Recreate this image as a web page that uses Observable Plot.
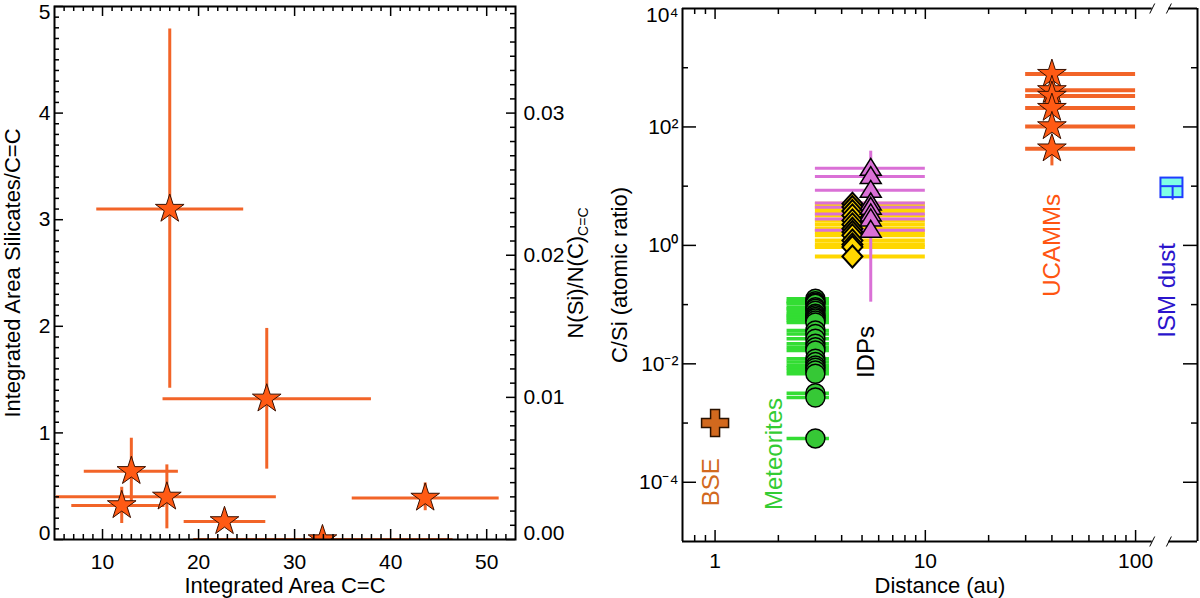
<!DOCTYPE html>
<html>
<head>
<meta charset="utf-8">
<script src="https://cdn.jsdelivr.net/npm/d3@7"></script>
<script src="https://cdn.jsdelivr.net/npm/@observablehq/plot@0.6"></script>
<style>
  html, body { margin: 0; padding: 0; background: #fff; }
  #chart { display: flex; width: 1200px; height: 598px; overflow: hidden; }
</style>
</head>
<body>
<div id="chart"></div>
<script>
// ---- panel izquierdo: areas integradas ----
const areaCC   = [17.0, 27.1, 13.0, 16.7, 12.0, 22.7, 32.9, 43.6];
const areaCCLo = [9.4, 16.3, 8.1, 5.2, 6.8, 18.5, 19.5, 36.0];
const areaCCHi = [24.7, 38.0, 17.9, 28.1, 16.5, 27.0, 46.5, 51.3];
const silCC    = [3.10, 1.32, 0.64, 0.40, 0.32, 0.17, 0.00, 0.39];
const silCCLo  = [1.42, 0.66, 0.35, 0.10, 0.15, 0.17, 0.00, 0.27];
const silCCHi  = [4.79, 1.98, 0.95, 0.70, 0.49, 0.17, 0.00, 0.53];
const siPerC = 0.0075;               // N(Si)/N(C) por unidad de area
const leftXTicks = [10, 20, 30, 40, 50];
const leftYTicks = [0, 1, 2, 3, 4, 5];
const nSiTicks = [0.00, 0.01, 0.02, 0.03];

// ---- panel derecho: C/Si vs distancia ----
const bseDist = 1, bseCSi = 1e-3;
const metDist = 3, metDistLo = 2.2, metDistHi = 3.5;
const metCSi = [0.125, 0.114, 0.108, 0.103, 0.09, 0.085, 0.079, 0.07, 0.066, 0.0615, 0.058, 0.054, 0.05,
                0.0365, 0.032, 0.0265, 0.0218, 0.019, 0.0168, 0.0122, 0.0107, 0.0094, 0.0086, 0.0077, 0.0068,
                0.0032, 0.0027, 0.00055];
const idpDistLo = 3, idpDistHi = 10;
const idpYellowDist = 4.5;
const idpYellow = [5.06, 4.44, 3.8, 3.21, 2.64, 2.26, 1.91, 1.68, 1.48, 1.21, 1.04, 0.94, 0.65];
const idpPinkDist = 5.5;
const idpPink = [20, 14.5, 8.5, 5.2, 4.4, 3.4, 2.8, 1.8];
const idpPinkErr = [0.11, 39];
const ucDist = 40, ucDistLo = 30, ucDistHi = 100;
const ucammCSi = [780, 415, 333, 208, 102, 43];
const ucammErr = [22, 43];
const ismDist = 150, ismDistLo = 132, ismDistHi = 168;
const ismCSi = 10, ismLo = 6.4, ismHi = 13.7, ismErr = [5.8, 10];
const groupNames = ["BSE", "Meteorites", "IDPs", "UCAMMs", "ISM dust"];
const groupColors = ["#d2691e", "#33cc33", "#000000", "#ff5511", "#2a14cc"];
const labelDist = [0.957, 1.91, 5.22, 40, 141];
const labelCSi = [1e-4, 3e-4, 0.0158, 1, 0.174];
const rightXTicks = [1, 10, 100];
const rightYTicks = [1e-4, 1e-2, 1, 1e2, 1e4];

const font = "'Liberation Sans', Arial, Helvetica, sans-serif";
const orangeBar = "#f26428", orangeStar = "#ff5a14";

const leftPts = areaCC.map((x, i) => ({x, xlo: areaCCLo[i], xhi: areaCCHi[i], y: silCC[i], ylo: silCCLo[i], yhi: silCCHi[i]}));

// ticks hacia adentro (estilo IDL); las etiquetas de los extremos quedan dentro del marco
const LH = 533, LW = 461;
const left = Plot.plot({
  width: 600, height: 598,
  marginLeft: 54, marginRight: 85, marginTop: 6, marginBottom: 59,
  style: {fontFamily: font, fontSize: "21px", color: "black", background: "white", overflow: "visible"},
  x: {domain: [5, 53], axis: null},
  y: {domain: [0, 5], axis: null},
  marks: [
    Plot.ruleY(leftPts, {y: "y", x1: "xlo", x2: "xhi", stroke: orangeBar, strokeWidth: 3, clip: true}),
    Plot.ruleX(leftPts, {x: "x", y1: "ylo", y2: "yhi", stroke: orangeBar, strokeWidth: 3, clip: true}),
    Plot.dot(leftPts, {x: "x", y: "y", symbol: "star", r: 9, fill: orangeStar, stroke: "#3a1000", strokeWidth: 1, clip: true}),
    Plot.tickX(leftXTicks, {x: d => d, insetTop: LH - 10, strokeWidth: 1.5}),
    Plot.tickX(leftXTicks, {x: d => d, insetBottom: LH - 10, strokeWidth: 1.5}),
    Plot.tickX(d3.range(6, 53).filter(d => d % 10), {x: d => d, insetTop: LH - 5, strokeWidth: 1.5}),
    Plot.tickX(d3.range(6, 53).filter(d => d % 10), {x: d => d, insetBottom: LH - 5, strokeWidth: 1.5}),
    Plot.tickY(leftYTicks, {y: d => d, insetRight: LW - 9, strokeWidth: 1.5}),
    Plot.tickY(d3.range(1, 50).filter(d => d % 10).map(d => d / 10), {y: d => d, insetRight: LW - 5, strokeWidth: 1.5}),
    Plot.tickY(nSiTicks, {y: d => d / siPerC, insetLeft: LW - 9, strokeWidth: 1.5}),
    Plot.tickY(d3.range(1, 38).filter(d => d % 10).map(d => d / 1000), {y: d => d / siPerC, insetLeft: LW - 5, strokeWidth: 1.5}),
    Plot.frame({strokeWidth: 2}),
    // etiquetas de ticks
    Plot.text(leftXTicks, {x: d => d, frameAnchor: "bottom", dy: 22.7, lineAnchor: "middle"}),
    Plot.text(leftYTicks.slice(1, -1), {y: d => d, frameAnchor: "left", dx: -4, textAnchor: "end"}),
    Plot.text(leftYTicks.slice(-1), {y: d => d, frameAnchor: "left", dx: -4, dy: 6, textAnchor: "end"}),
    Plot.text(leftYTicks.slice(0, 1), {y: d => d, frameAnchor: "left", dx: -4, dy: -6, textAnchor: "end"}),
    Plot.text(nSiTicks.slice(1), {y: d => d / siPerC, frameAnchor: "right", dx: 8, textAnchor: "start", text: d => d.toFixed(2)}),
    Plot.text(nSiTicks.slice(0, 1), {y: d => d / siPerC, frameAnchor: "right", dx: 8, dy: -6, textAnchor: "start", text: d => d.toFixed(2)}),
    // titulos
    Plot.text(["Integrated Area C=C"], {frameAnchor: "bottom", dy: 46, fontSize: 22, lineAnchor: "middle", textAnchor: "middle"}),
    Plot.text(["Integrated Area Silicates/C=C"], {frameAnchor: "left", dx: -41.5, rotate: -90, fontSize: 22, lineAnchor: "middle", textAnchor: "middle"}),
    Plot.text(["N(Si)/N(C)"], {frameAnchor: "right", dx: 60, rotate: -90, fontSize: 22, lineAnchor: "middle", textAnchor: "middle"})
  ]
});

// subindice C=C
d3.select(left).selectAll("text").filter(function() { return this.textContent === "N(Si)/N(C)"; })
  .append("tspan").attr("dy", "0.4em").attr("font-size", "14px").text("C=C");

const sup = {"-": "\u207b", "0": "\u2070", "1": "\u00b9", "2": "\u00b2", "3": "\u00b3", "4": "\u2074"};
const pow10 = d => "10" + String(Math.round(Math.log10(d))).split("").map(c => sup[c]).join("");

const met = metCSi.map(y => ({x: metDist, y, lo: metDistLo, hi: metDistHi}));
const yel = idpYellow.map(y => ({x: idpYellowDist, y, lo: idpDistLo, hi: idpDistHi}));
const pink = idpPink.map(y => ({x: idpPinkDist, y, lo: idpDistLo, hi: idpDistHi}));
const uc = ucammCSi.map(y => ({x: ucDist, y, lo: ucDistLo, hi: ucDistHi}));
const labels = groupNames.map((name, i) => ({name, color: groupColors[i], x: labelDist[i], y: labelCSi[i]}));

// simbolos de tamano fijo
const diamond = {draw(c) { c.moveTo(0, -11); c.lineTo(10, 0); c.lineTo(0, 11); c.lineTo(-10, 0); c.closePath(); }};
const triangle = {draw(c) { c.moveTo(0, -10); c.lineTo(10.5, 7); c.lineTo(-10.5, 7); c.closePath(); }};
const plus = {draw(c) {
  const a = 13.5, b = 4.5;
  c.moveTo(-b, -a); c.lineTo(b, -a); c.lineTo(b, -b); c.lineTo(a, -b); c.lineTo(a, b); c.lineTo(b, b);
  c.lineTo(b, a); c.lineTo(-b, a); c.lineTo(-b, b); c.lineTo(-a, b); c.lineTo(-a, -b); c.lineTo(-b, -b); c.closePath();
}};
const slash = {draw(c) { c.moveTo(-2.5, 5); c.lineTo(2.5, -5); }};

const RH = 533, RW = 515;
const xDom = [0.7, 197], yDom = [1e-5, 1e4], brk = [120, 144];
const xMinor = [0.8, 0.9, ...d3.range(2, 10), ...d3.range(20, 100, 10)];
const yMinor = [1e-3, 1e-1, 1e1, 1e3];
const yMajor = [1e-4, 1e-2, 1, 1e2];

const right = Plot.plot({
  width: 600, height: 598,
  marginLeft: 82, marginRight: 3, marginTop: 8, marginBottom: 57,
  style: {fontFamily: font, fontSize: "21px", color: "black", background: "white", overflow: "visible"},
  x: {type: "log", domain: xDom, axis: null},
  y: {type: "log", domain: yDom, axis: null},
  marks: [
    // BSE
    Plot.dot([{x: bseDist, y: bseCSi}], {x: "x", y: "y", symbol: plus, fill: "#d2691e", stroke: "#2a1200", strokeWidth: 1.5}),
    // meteoritos
    Plot.ruleY(met, {y: "y", x1: "lo", x2: "hi", stroke: "#33dd33", strokeWidth: 3.5}),
    Plot.dot(met, {x: "x", y: "y", r: 9.5, fill: "#36c836", stroke: "black", strokeWidth: 1.5}),
    // IDPs
    Plot.ruleY(yel, {y: "y", x1: "lo", x2: "hi", stroke: "#ffd700", strokeWidth: 4}),
    Plot.ruleY(pink, {y: "y", x1: "lo", x2: "hi", stroke: "#da70d6", strokeWidth: 3}),
    Plot.ruleX([idpPinkErr], {x: idpPinkDist, y1: d => d[0], y2: d => d[1], stroke: "#da70d6", strokeWidth: 3}),
    Plot.dot(yel, {x: "x", y: "y", symbol: diamond, fill: "#ffd700", stroke: "black", strokeWidth: 2}),
    Plot.dot(pink, {x: "x", y: "y", symbol: triangle, fill: "#da70d6", stroke: "black", strokeWidth: 1.5}),
    // UCAMMs
    Plot.ruleY(uc, {y: "y", x1: "lo", x2: "hi", stroke: orangeBar, strokeWidth: 4}),
    Plot.ruleX([ucammErr], {x: ucDist, y1: d => d[0], y2: d => d[1], stroke: orangeBar, strokeWidth: 3}),
    Plot.dot(uc, {x: "x", y: "y", symbol: "star", r: 9, fill: orangeStar, stroke: "#3a1000", strokeWidth: 1}),
    // polvo ISM
    Plot.rect([{x1: ismDistLo, x2: ismDistHi, y1: ismLo, y2: ismHi}], {x1: "x1", x2: "x2", y1: "y1", y2: "y2", fill: "#7fffe6", stroke: "#1f3cff", strokeWidth: 2}),
    Plot.ruleY([ismCSi], {y: d => d, x1: ismDistLo, x2: ismDistHi, stroke: "#1f3cff", strokeWidth: 2}),
    Plot.ruleX([ismErr], {x: ismDist, y1: d => d[0], y2: d => d[1], stroke: "#1f3cff", strokeWidth: 2}),
    // etiquetas de grupo
    ...labels.map(d => Plot.text([d], {x: "x", y: "y", text: "name", rotate: -90, fontSize: 24, fill: d.color})),
    // ticks
    Plot.tickX(rightXTicks, {x: d => d, insetTop: RH - 11, strokeWidth: 1.5}),
    Plot.tickX(rightXTicks, {x: d => d, insetBottom: RH - 11, strokeWidth: 1.5}),
    Plot.tickX(xMinor, {x: d => d, insetTop: RH - 6, strokeWidth: 1.5}),
    Plot.tickX(xMinor, {x: d => d, insetBottom: RH - 6, strokeWidth: 1.5}),
    Plot.tickY(yMajor, {y: d => d, insetRight: RW - 14, strokeWidth: 1.5}),
    Plot.tickY(yMajor, {y: d => d, insetLeft: RW - 14, strokeWidth: 1.5}),
    Plot.tickY(yMinor, {y: d => d, insetRight: RW - 6, strokeWidth: 1.5}),
    Plot.tickY(yMinor, {y: d => d, insetLeft: RW - 6, strokeWidth: 1.5}),
    // marco con corte en el eje x
    Plot.ruleX(xDom, {x: d => d, strokeWidth: 2}),
    Plot.ruleY(yDom, {y: d => d, x1: xDom[0], x2: brk[0], strokeWidth: 2}),
    Plot.ruleY(yDom, {y: d => d, x1: brk[1], x2: xDom[1], strokeWidth: 2}),
    Plot.dot(yDom.flatMap(y => brk.map(x => ({x, y}))), {x: "x", y: "y", symbol: slash, stroke: "black", strokeWidth: 1, fill: "none"}),
    // etiquetas de ticks
    Plot.text(rightXTicks, {x: d => d, frameAnchor: "bottom", dy: 20, lineAnchor: "middle", text: d => String(d)}),
    Plot.text(rightYTicks.slice(0, -1), {y: d => d, frameAnchor: "left", dx: -4, textAnchor: "end", text: pow10}),
    Plot.text(rightYTicks.slice(-1), {y: d => d, frameAnchor: "left", dx: -4, dy: 7, textAnchor: "end", text: pow10}),
    // titulos
    Plot.text(["Distance (au)"], {frameAnchor: "bottom", dy: 44.7, fontSize: 22, lineAnchor: "middle", textAnchor: "middle"}),
    Plot.text(["C/Si (atomic ratio)"], {frameAnchor: "left", dx: -63, rotate: -90, fontSize: 22, lineAnchor: "middle", textAnchor: "middle"})
  ]
});

d3.select("#chart").append(() => left);
d3.select("#chart").append(() => right);
</script>
</body>
</html>
